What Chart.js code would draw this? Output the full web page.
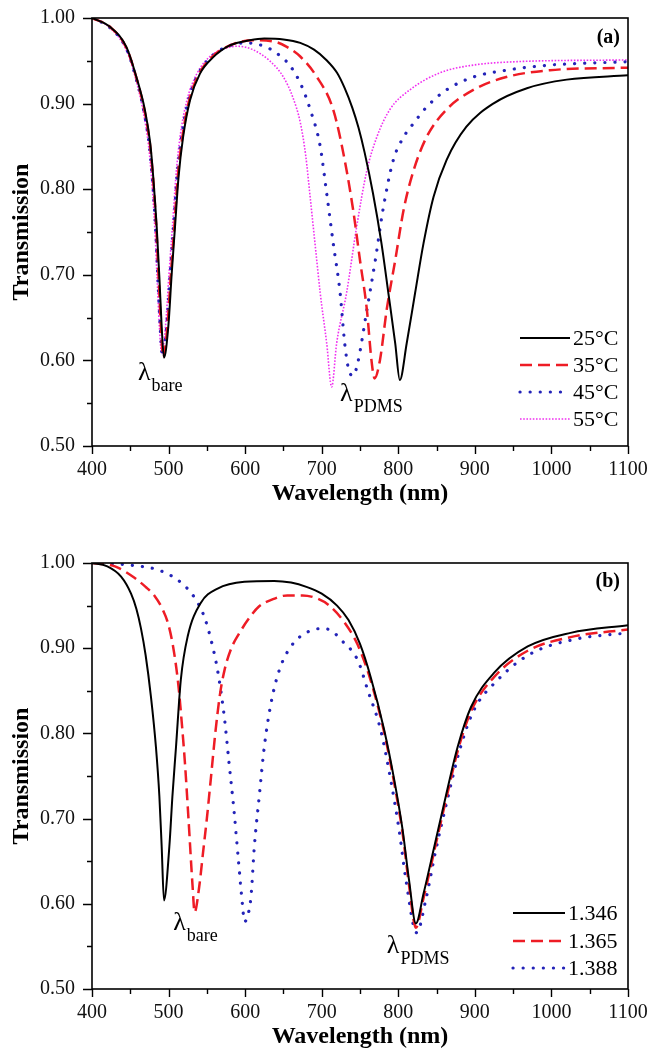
<!DOCTYPE html>
<html>
<head>
<meta charset="utf-8">
<script src="https://cdn.jsdelivr.net/npm/chart.js@4.4.0/dist/chart.umd.min.js"></script>
<style>
  body { margin: 0; background: #fff; }
  #wrap { position: relative; width: 651px; height: 1055px; }
  canvas { position: absolute; left: 0; }
</style>
</head>
<body>
<div id="wrap">
  <canvas id="chartA" width="651" height="528" style="top:0px"></canvas>
  <canvas id="chartB" width="651" height="527" style="top:528px"></canvas>
</div>
<script>
// --- Datos ---

// (a) temperatura
const tempLabels = ["25°C", "35°C", "45°C", "55°C"];
const wl25 = [400,423,445,458,469,476,480,484.5,488,491,494,499.7,504,508.4,513,519,528,541,558,580,606,625,650,672,690,706,720,730,740,748,756,767,778,787,796,802,811,822,833,846,863,889,924,968,1020,1100];
const tr25 = [1.000,0.990,0.966,0.931,0.893,0.854,0.814,0.756,0.697,0.639,0.603,0.640,0.700,0.756,0.814,0.861,0.904,0.935,0.954,0.968,0.974,0.976,0.975,0.971,0.963,0.951,0.936,0.918,0.895,0.872,0.843,0.795,0.737,0.679,0.620,0.577,0.620,0.679,0.737,0.791,0.834,0.873,0.900,0.918,0.928,0.933];
const wl35 = [400,423,445,458,469,476,480,484,487,490,493,498.5,503,507.5,512,518,527,540,557,580,610,640,655,672,693,715,730,741,750,759,765,769,776,785,796,807,820,837,863,898,941,998,1100];
const tr35 = [1.000,0.990,0.965,0.930,0.890,0.850,0.810,0.755,0.697,0.640,0.604,0.640,0.700,0.756,0.814,0.861,0.904,0.935,0.955,0.968,0.974,0.972,0.966,0.955,0.932,0.893,0.834,0.776,0.717,0.659,0.600,0.579,0.600,0.660,0.717,0.776,0.822,0.861,0.893,0.916,0.931,0.939,0.942];
const wl45 = [400,423,445,458,468,475,479,483,486,489,492,497.5,502,506.5,511,517,526,539,556,578,600,625,641,658,672,685,698,706.5,715,724,730,735,741,747,759,770,780,793.5,807,820,837,863,898,941,998,1100];
const tr45 = [1.000,0.989,0.964,0.928,0.890,0.850,0.810,0.755,0.697,0.640,0.606,0.640,0.700,0.756,0.814,0.861,0.904,0.935,0.955,0.967,0.971,0.967,0.959,0.945,0.924,0.893,0.850,0.795,0.737,0.679,0.620,0.590,0.582,0.597,0.659,0.717,0.776,0.834,0.861,0.877,0.896,0.916,0.931,0.939,0.945,0.949];
const wl55 = [400,423,445,458,467,474,478,482,485,488,491,496,500.5,505,509.5,515,524,537,554,572,590,610,632,650,662,672,679,685,692,698,706.5,713,719.5,732.5,745.6,759,772,789,815,854.5,898,955,1100];
const tr55 = [1.000,0.989,0.962,0.926,0.890,0.850,0.810,0.755,0.697,0.640,0.608,0.640,0.700,0.756,0.814,0.861,0.904,0.935,0.955,0.964,0.967,0.963,0.950,0.931,0.908,0.878,0.840,0.790,0.730,0.679,0.620,0.569,0.620,0.679,0.756,0.822,0.861,0.893,0.916,0.936,0.945,0.949,0.951];

// (b) índice de refracción
const indexLabels = ["1.346", "1.365", "1.388"];
const wl1346 = [400,420,438,451,458,464,470,477,483.5,488,491,494,501,505,509.7,516,525,542,564,599,638,660,680,700,720,735,750,764,781.6,794.6,805.6,814,823,833,847,862,877.5,895,925,969,1025,1100];
const tr1346 = [1.000,0.996,0.984,0.964,0.946,0.923,0.892,0.843,0.784,0.726,0.667,0.604,0.667,0.726,0.784,0.863,0.914,0.953,0.970,0.978,0.979,0.977,0.972,0.964,0.950,0.933,0.905,0.866,0.804,0.746,0.687,0.628,0.577,0.612,0.667,0.726,0.784,0.831,0.871,0.902,0.918,0.927];
const wl1365 = [400,430,455,470,482,492,500,507,513,517,521.4,526,531.4,534,540,545,550,555,561,567,573,582,592,605,618,635,655,675,695,710,730,747,764,781.6,794.6,805.6,814,823,833,847,862,877.5,895,925,969,1025,1100];
const tr1365 = [1.000,0.996,0.983,0.972,0.961,0.946,0.927,0.896,0.855,0.815,0.765,0.700,0.620,0.590,0.620,0.660,0.700,0.745,0.800,0.845,0.874,0.900,0.917,0.935,0.949,0.957,0.962,0.962,0.958,0.950,0.930,0.904,0.862,0.801,0.742,0.683,0.622,0.572,0.607,0.662,0.721,0.779,0.826,0.866,0.897,0.913,0.922];
const wl1388 = [400,455,486,512,533.5,546.6,555.4,564,572.7,579,585.8,591.5,596.7,599,603,607.6,612,618.4,625,633.7,644.5,659.8,681.6,699,712,725,747,760,777,790,801,810,824,836,849,864,880,898,929,972,1028,1100];
const tr1388 = [1.000,0.997,0.992,0.980,0.960,0.937,0.910,0.874,0.820,0.765,0.706,0.648,0.597,0.579,0.585,0.608,0.667,0.726,0.784,0.835,0.874,0.902,0.919,0.923,0.921,0.910,0.886,0.851,0.804,0.746,0.687,0.628,0.566,0.605,0.663,0.722,0.780,0.826,0.862,0.893,0.910,0.918];

// ejes
const xTicks = [400, 500, 600, 700, 800, 900, 1000, 1100];
const yTicks = [0.50, 0.60, 0.70, 0.80, 0.90, 1.00];

const serif = "'Liberation Serif', 'Times New Roman', serif";

// estilos de línea
const estilos = [
  { borderColor: '#000000', borderWidth: 2, borderDash: [], borderCapStyle: 'butt' },
  { borderColor: '#ee1c25', borderWidth: 2.5, borderDash: [12, 6], borderCapStyle: 'butt' },
  { borderColor: '#2323b8', borderWidth: 3.2, borderDash: [0.1, 10], borderCapStyle: 'round' },
  { borderColor: '#f030f0', borderWidth: 1.6, borderDash: [1.6, 1.6], borderCapStyle: 'butt' }
];

function puntos(xs, ys) {
  return xs.map((x, i) => ({ x: x, y: ys[i] }));
}

function serie(label, xs, ys, i) {
  return Object.assign({
    label: label,
    data: puntos(xs, ys),
    pointRadius: 0,
    fill: false,
    cubicInterpolationMode: 'monotone'
  }, estilos[i]);
}

// Marco, marcas de ejes, títulos, leyenda y etiquetas λ
const extras = {
  id: 'extras',
  afterDatasetsDraw(chart, args, opts) {
    const { ctx, chartArea: a } = chart;
    const xs = chart.scales.x, ys = chart.scales.y;
    ctx.save();
    ctx.strokeStyle = '#000';
    ctx.lineWidth = 1.6;
    ctx.setLineDash([]);
    ctx.strokeRect(a.left, a.top, a.right - a.left, a.bottom - a.top);

    // marcas mayores y menores
    ctx.lineWidth = 1.4;
    ctx.beginPath();
    for (let i = 0; i <= 14; i++) {
      const v = 400 + i * 50;
      const px = Math.round(xs.getPixelForValue(v)) + 0.5;
      const len = (i % 2 === 0) ? 8 : 5;
      ctx.moveTo(px, a.bottom);
      ctx.lineTo(px, a.bottom + len);
    }
    for (let i = 0; i <= 10; i++) {
      const v = 0.5 + i * 0.05;
      const py = Math.round(ys.getPixelForValue(v)) + 0.5;
      const len = (i % 2 === 0) ? 9 : 5;
      ctx.moveTo(a.left, py);
      ctx.lineTo(a.left - len, py);
    }
    ctx.stroke();

    // títulos de los ejes
    ctx.fillStyle = '#000';
    ctx.font = 'bold 24px ' + serif;
    ctx.textAlign = 'center';
    ctx.textBaseline = 'middle';
    ctx.fillText('Wavelength (nm)', (a.left + a.right) / 2, a.bottom + 48);
    ctx.save();
    ctx.translate(22, (a.top + a.bottom) / 2);
    ctx.rotate(-Math.PI / 2);
    ctx.fillText('Transmission', 0, 0);
    ctx.restore();

    // (a) / (b)
    ctx.font = 'bold 20px ' + serif;
    ctx.textAlign = 'right';
    ctx.fillText(opts.panel, a.right - 8, a.top + opts.panelDy);

    // leyenda
    opts.legend.forEach((row, i) => {
      const ds = chart.data.datasets[i];
      const y = a.bottom + row;
      ctx.save();
      ctx.strokeStyle = ds.borderColor;
      ctx.lineWidth = ds.borderWidth;
      ctx.setLineDash(ds.borderDash);
      ctx.lineCap = ds.borderCapStyle;
      ctx.beginPath();
      ctx.moveTo(a.right + opts.legX1, y);
      ctx.lineTo(a.right + opts.legX2, y);
      ctx.stroke();
      ctx.restore();
      ctx.font = '22px ' + serif;
      ctx.textAlign = 'left';
      ctx.textBaseline = 'middle';
      ctx.fillText(ds.label, a.right + opts.legX2 + 3, y + 1);
    });

    // etiquetas λ con subíndice
    opts.lambdas.forEach(l => {
      const px = xs.getPixelForValue(l.x);
      const py = ys.getPixelForValue(l.y);
      ctx.textAlign = 'left';
      ctx.textBaseline = 'alphabetic';
      ctx.font = '26px ' + serif;
      ctx.fillText('λ', px, py);
      const w = ctx.measureText('λ').width;
      ctx.font = '18px ' + serif;
      ctx.fillText(l.sub, px + w + 1, py + 11);
    });
    ctx.restore();
  }
};

function crearGrafico(id, datasets, padTop, xHeight, extrasOpts) {
  return new Chart(document.getElementById(id), {
    type: 'line',
    data: { datasets: datasets },
    options: {
      responsive: false,
      animation: false,
      layout: { padding: { top: padTop, right: 23, left: 0, bottom: 0 } },
      plugins: {
        legend: { display: false },
        tooltip: { enabled: false },
        extras: extrasOpts
      },
      scales: {
        x: {
          type: 'linear',
          min: 400,
          max: 1100,
          afterFit: s => { s.height = xHeight; s.paddingLeft = 0; s.paddingRight = 0; },
          afterBuildTicks: s => { s.ticks = xTicks.map(v => ({ value: v })); },
          grid: { display: false, drawTicks: false },
          border: { display: false },
          ticks: {
            padding: 12,
            maxRotation: 0,
            autoSkip: false,
            color: '#111',
            font: { family: serif, size: 20 },
            callback: v => String(v)
          }
        },
        y: {
          min: 0.5,
          max: 1.0,
          afterFit: s => { s.width = 92; s.paddingTop = 0; s.paddingBottom = 0; },
          afterBuildTicks: s => { s.ticks = yTicks.map(v => ({ value: v })); },
          grid: { display: false, drawTicks: false },
          border: { display: false },
          ticks: {
            padding: 17,
            color: '#111',
            font: { family: serif, size: 20 },
            callback: v => Number(v).toFixed(2)
          }
        }
      }
    },
    plugins: [extras]
  });
}

crearGrafico('chartA', [
  serie(tempLabels[0], wl25, tr25, 0),
  serie(tempLabels[1], wl35, tr35, 1),
  serie(tempLabels[2], wl45, tr45, 2),
  serie(tempLabels[3], wl55, tr55, 3)
], 18, 82, {
  panel: '(a)',
  panelDy: 20,
  legend: [-108, -81, -54, -27],
  legX1: -108,
  legX2: -58,
  lambdas: [
    { x: 460, y: 0.577, sub: 'bare' },
    { x: 724, y: 0.553, sub: 'PDMS' }
  ]
});

crearGrafico('chartB', [
  serie(indexLabels[0], wl1346, tr1346, 0),
  serie(indexLabels[1], wl1365, tr1365, 1),
  serie(indexLabels[2], wl1388, tr1388, 2)
], 35, 66, {
  panel: '(b)',
  panelDy: 19,
  legend: [-76, -48, -21],
  legX1: -115,
  legX2: -63,
  lambdas: [
    { x: 506, y: 0.569, sub: 'bare' },
    { x: 785, y: 0.542, sub: 'PDMS' }
  ]
});
</script>
</body>
</html>
